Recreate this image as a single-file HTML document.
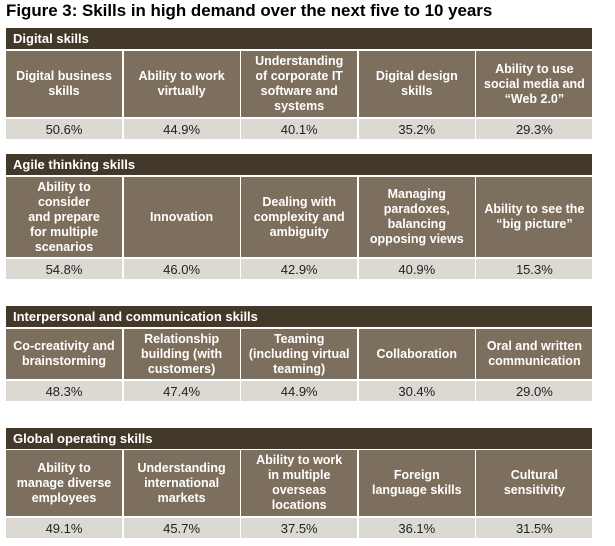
<!DOCTYPE html>
<html><head><meta charset="utf-8">
<style>
body{margin:0;background:#fff;width:615px;height:546px;position:relative;overflow:hidden;font-family:"Liberation Sans",Arial,sans-serif;}
.title{position:absolute;left:6px;top:1px;font-weight:bold;font-size:16.9px;color:#000;white-space:nowrap;}
.hdr{position:absolute;left:6px;width:586px;height:21px;background:#42392b;color:#fff;font-weight:bold;font-size:13px;line-height:21px;padding-left:7px;box-sizing:border-box;}
.lab{position:absolute;width:116px;background:#7d6f5e;color:#fff;font-weight:bold;font-size:12.5px;line-height:15px;display:flex;align-items:center;justify-content:center;text-align:center;}
.val{position:absolute;width:116px;height:20px;background:#dcd8d2;color:#222;font-size:13px;line-height:21px;text-align:center;}
</style></head><body>
<div class="title">Figure 3: Skills in high demand over the next five to 10 years</div>
<div id="root"></div>
<script>
const sectionNames=["Digital skills","Agile thinking skills","Interpersonal and communication skills","Global operating skills"];
const skills=[
["Digital business<br>skills","Ability to work<br>virtually","Understanding<br>of corporate IT<br>software and<br>systems","Digital design<br>skills","Ability to use<br>social media and<br>“Web 2.0”"],
["Ability to<br>consider<br>and prepare<br>for multiple<br>scenarios","Innovation","Dealing with<br>complexity and<br>ambiguity","Managing<br>paradoxes,<br>balancing<br>opposing views","Ability to see the<br>“big picture”"],
["Co-creativity and<br>brainstorming","Relationship<br>building (with<br>customers)","Teaming<br>(including virtual<br>teaming)","Collaboration","Oral and written<br>communication"],
["Ability to<br>manage diverse<br>employees","Understanding<br>international<br>markets","Ability to work<br>in multiple<br>overseas<br>locations","Foreign<br>language skills","Cultural<br>sensitivity"]];
const percents=[[50.6,44.9,40.1,35.2,29.3],[54.8,46.0,42.9,40.9,15.3],[48.3,47.4,44.9,30.4,29.0],[49.1,45.7,37.5,36.1,31.5]];
const layout=[[28,51,66,119],[154,177,80,259],[306,329,50,381],[428,450,66,518]];
const root=document.getElementById('root');
sectionNames.forEach((name,s)=>{
  const [hy,ly,lh,vy]=layout[s];
  const h=document.createElement('div');
  h.className='hdr';h.style.top=hy+'px';h.textContent=name;
  
  
  root.appendChild(h);
  skills[s].forEach((txt,i)=>{
    const x=6+i*117.6;
    const l=document.createElement('div');
    l.className='lab';l.style.left=x+'px';l.style.top=ly+'px';l.style.height=lh+'px';
    l.innerHTML='<span>'+txt+'</span>';
    
    
    root.appendChild(l);
    const v=document.createElement('div');
    v.className='val';v.style.left=x+'px';v.style.top=vy+'px';
    v.textContent=percents[s][i].toFixed(1)+'%';
    
    
    root.appendChild(v);
  });
});
</script>
</body></html>
